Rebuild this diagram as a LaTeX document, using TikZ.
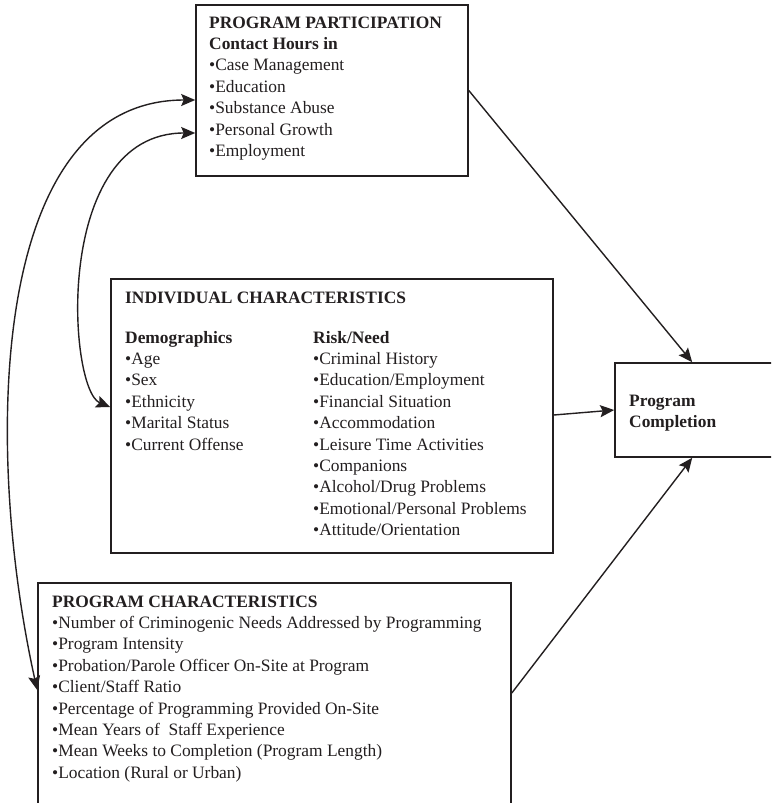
\documentclass[tikz,border=0pt]{standalone}
\usepackage{fontspec}
\setmainfont{Liberation Serif}
\usetikzlibrary{arrows.meta}
\definecolor{ink}{RGB}{35,31,32}
\tikzset{
  boxnode/.style={draw=ink, line width=1.6pt, inner sep=0pt, fill=none},
  txt/.style={anchor=base west, inner sep=0pt, align=left, text=ink,
    font=\fontsize{17.4}{21.4}\selectfont},
  tip/.tip={Stealth[length=14pt,width=12pt,inset=2.5pt]},
  arr/.style={draw=ink, line width=1.4pt, -tip},
  darr/.style={draw=ink, line width=1.4pt, tip-tip}
}
\newcommand{\bl}{\textbullet}
\begin{document}
\begin{tikzpicture}[x=1pt,y=-1pt]
\clip (0,0) rectangle (771,803);
\fill[white] (0,0) rectangle (771,803);
% boxes
\node[boxnode, minimum width=272pt, minimum height=171pt] (pp) at (332,90.5) {};
\node[boxnode, minimum width=442pt, minimum height=274pt] (ic) at (332,416) {};
\node[boxnode, minimum width=175pt, minimum height=94pt] (pc) at (702.5,410) {};
\node[boxnode, minimum width=473pt, minimum height=247pt] (pch) at (274.5,706.5) {};
% texts (base anchor = baseline of the last line)
\node[txt] (pptext) at (209,156.4) {\textbf{PROGRAM PARTICIPATION}\\
\textbf{Contact Hours in}\\
\bl Case Management\\
\bl Education\\
\bl Substance Abuse\\
\bl Personal Growth\\
\bl Employment};
\node[txt] (ictitle) at (125,303) {\textbf{INDIVIDUAL CHARACTERISTICS}};
\node[txt] (demo) at (125,450) {\textbf{Demographics}\\
\bl Age\\
\bl Sex\\
\bl Ethnicity\\
\bl Marital Status\\
\bl Current Offense};
\node[txt] (risk) at (313,535.6) {\textbf{Risk/Need}\\
\bl Criminal History\\
\bl Education/Employment\\
\bl Financial Situation\\
\bl Accommodation\\
\bl Leisure Time Activities\\
\bl Companions\\
\bl Alcohol/Drug Problems\\
\bl Emotional/Personal Problems\\
\bl Attitude/Orientation};
\node[txt] (pctext) at (629,427) {\textbf{Program}\\[-1pt]
\textbf{Completion}};
\node[txt] (pchtext) at (52,778.2) {\textbf{PROGRAM CHARACTERISTICS}\\
\bl Number of Criminogenic Needs Addressed by Programming\\
\bl Program Intensity\\
\bl Probation/Parole Officer On-Site at Program\\
\bl Client/Staff Ratio\\
\bl Percentage of Programming Provided On-Site\\
\bl Mean Years of\ \ Staff Experience\\
\bl Mean Weeks to Completion (Program Length)\\
\bl Location (Rural or Urban)};
% connectors
\draw[arr] (pp.east) -- ([xshift=78pt]pc.north west);
\draw[arr] ([yshift=1pt]ic.east) -- (pc.west);
\draw[arr] ([yshift=13.5pt]pch.east) -- ([xshift=78pt]pc.south west);
\draw[darr] ([yshift=16.5pt]pch.west) .. controls (-16,450) and (-12,100) .. ([yshift=-9.5pt]pp.west);
\draw[darr] ([yshift=9pt]ic.west) .. controls (68,390) and (52,133) .. ([yshift=-42.5pt]pp.west);
\end{tikzpicture}
\end{document}
